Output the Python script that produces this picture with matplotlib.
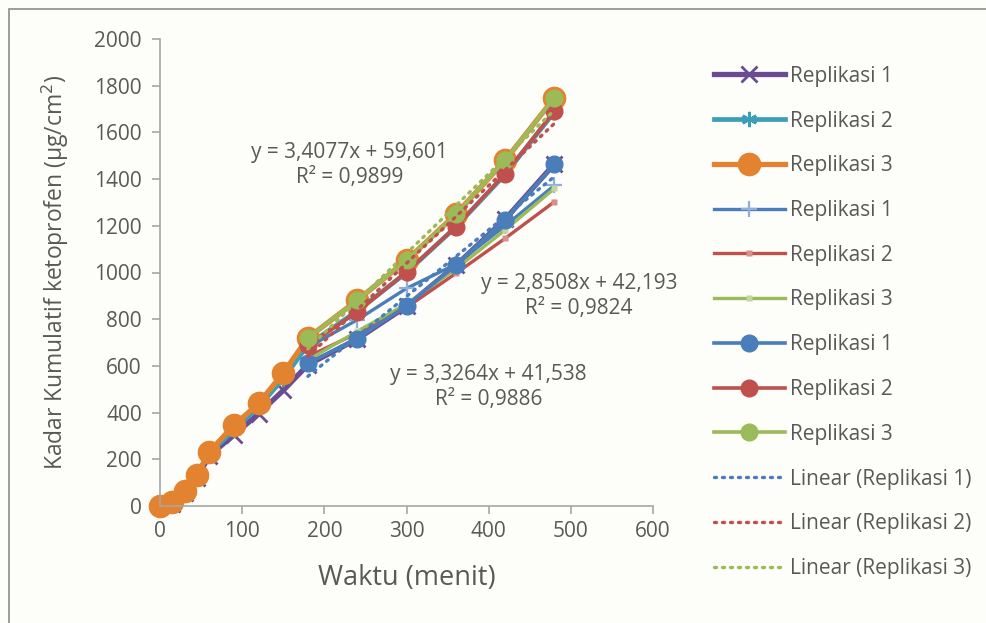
import matplotlib
matplotlib.use("Agg")
import matplotlib.pyplot as plt
import numpy as np

# data
waktu = [0, 15, 30, 45, 60, 90, 120, 150, 180, 240, 300, 360, 420, 480]
waktu_b = [180, 240, 300, 360, 420, 480]

rep1_a = [0, 10, 55, 120, 215, 305, 395, 495, 605, 715, 855, 1030, 1228, 1465]
rep2_a = [0, 20, 70, 135, 225, 325, 425, 545, 690, 835, 1000, 1195, 1420, 1688]
rep3_a = [0, 19, 66, 133, 232, 346, 439, 570, 720, 881, 1052, 1249, 1480, 1748]

rep1_b = [680, 797, 932, 1035, 1200, 1373]
rep2_b = [640, 740, 850, 996, 1146, 1303]
rep3_b = [625, 748, 865, 1015, 1182, 1360]

rep1_c = [611, 717, 858, 1031, 1226, 1463]
rep2_c = [688, 831, 1002, 1195, 1423, 1691]
rep3_c = [720, 881, 1052, 1249, 1480, 1748]

# trendline coefficients (slope, intercept) as printed on the chart
tren1 = (2.8508, 42.193)
tren2 = (3.3264, 41.538)
tren3 = (3.4077, 59.601)

plt.rcParams['font.family'] = ['Open Sans', 'DejaVu Sans']
TXT = '#595959'

fig = plt.figure(figsize=(9.87, 6.23), dpi=100)
fig.patch.set_facecolor('#fdfdfa')
ax = fig.add_axes([160/987, 1-506/623, (653-160)/987, (506-39)/623])
ax.set_facecolor('none')

# chart border
fig.add_artist(plt.Rectangle((9/987, -0.05), 1.2, 1-9/623+0.05, transform=fig.transFigure,
                             fill=False, edgecolor='#8c8c8c', lw=1.2))

lines = []
l, = ax.plot(waktu, rep1_a, color='#6a4c93', lw=3.8, marker='x', ms=11, mew=2, label='Replikasi 1', clip_on=False)
lines.append(l)
l, = ax.plot(waktu, rep2_a, color='#3a9fb7', lw=3.4, marker=(6, 2, 0), ms=11, mew=1.8, label='Replikasi 2', clip_on=False)
lines.append(l)
l, = ax.plot(waktu, rep3_a, color='#e3822f', lw=3.8, marker='o', ms=16, mec='#e3822f', label='Replikasi 3', clip_on=False)
lines.append(l)

l, = ax.plot(waktu_b, rep1_b, color='#4a7ebb', lw=2.4, marker='+', ms=12, mew=1.6, mec='#8eaedb', label='Replikasi 1')
lines.append(l)
l, = ax.plot(waktu_b, rep2_b, color='#c0504d', lw=2.4, marker='s', ms=5, mec='none', mfc='#d88e8c', label='Replikasi 2')
lines.append(l)
l, = ax.plot(waktu_b, rep3_b, color='#9bbb59', lw=2.4, marker='s', ms=5, mec='none', mfc='#c3d69e', label='Replikasi 3')
lines.append(l)

l, = ax.plot(waktu_b, rep1_c, color='#4a7ebb', lw=2.6, marker='o', ms=12, mec='#4a7ebb', label='Replikasi 1')
lines.append(l)
l, = ax.plot(waktu_b, rep2_c, color='#c0504d', lw=2.6, marker='o', ms=12, mec='#c0504d', label='Replikasi 2')
lines.append(l)
l, = ax.plot(waktu_b, rep3_c, color='#9bbb59', lw=2.6, marker='o', ms=12, mec='#9bbb59', label='Replikasi 3')
lines.append(l)

xt = np.array([waktu_b[0], waktu_b[-1]])
for (m, c), col, nm in [(tren1, '#4a7ebb', 'Linear (Replikasi 1)'),
                        (tren2, '#c0504d', 'Linear (Replikasi 2)'),
                        (tren3, '#9bbb59', 'Linear (Replikasi 3)')]:
    l, = ax.plot(xt, m*xt + c, color=col, lw=2.4, ls=(0, (0.6, 1.8)), dash_capstyle='round', label=nm, zorder=5)
    lines.append(l)

ax.set_xlim(0, 600)
ax.set_ylim(0, 2000)
ax.set_xticks(range(0, 601, 100))
ax.set_yticks(range(0, 2001, 200))
for s in ['top', 'right']:
    ax.spines[s].set_visible(False)
for s in ['left', 'bottom']:
    ax.spines[s].set_color('#a6a6a6')
    ax.spines[s].set_linewidth(1.2)
ax.tick_params(axis='both', colors='#a6a6a6', labelcolor=TXT, labelsize=15, length=6, width=1.2, direction='out')
ax.tick_params(axis='y', pad=7)
ax.tick_params(axis='x', pad=5)

fig.text(55/987, 1-272/623, 'Kadar Kumulatif ketoprofen (µg/cm$^2$)', rotation=90,
         ha='center', va='center', fontsize=16.5, color=TXT)
fig.text(407/987, 1-578/623, 'Waktu (menit)', ha='center', va='center', fontsize=19.5, color=TXT)

ax.text(231, 1460, 'y = 3,4077x + 59,601\nR² = 0,9899', ha='center', va='center',
        fontsize=15, color=TXT, linespacing=1.25)
ax.text(510, 900, 'y = 2,8508x + 42,193\nR² = 0,9824', ha='center', va='center',
        fontsize=15, color=TXT, linespacing=1.25)
ax.text(400, 510, 'y = 3,3264x + 41,538\nR² = 0,9886', ha='center', va='center',
        fontsize=15, color=TXT, linespacing=1.25)

leg = fig.legend(handles=lines, loc='upper left', bbox_to_anchor=(695/987, 1-47/623),
                 frameon=False, fontsize=15, handlelength=3.4, handletextpad=0.25,
                 labelspacing=1.14, labelcolor=TXT, numpoints=1)

fig.savefig('out.png', dpi=100, facecolor=fig.get_facecolor())
